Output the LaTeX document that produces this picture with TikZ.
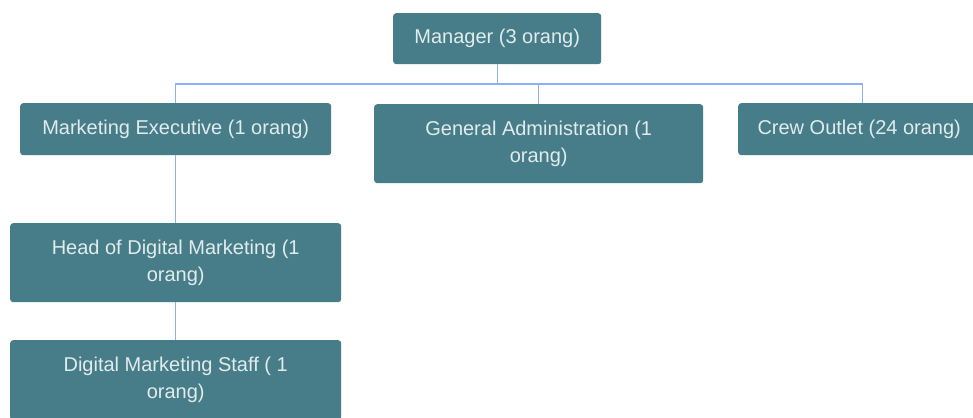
\documentclass[tikz,border=0pt]{standalone}
\usepackage{fontspec}
\setmainfont{Liberation Sans}
\definecolor{boxfill}{HTML}{467D88}
\definecolor{boxtext}{HTML}{E2ECEC}
\definecolor{linecol}{HTML}{8CB0F4}
\begin{document}
\begin{tikzpicture}[x=1pt,y=-1pt,
  orgbox/.style={rectangle, rounded corners=3pt, fill=boxfill, text=boxtext,
    align=center, inner sep=0pt, anchor=north west,
    font=\fontsize{20}{27}\selectfont},
  conn/.style={draw=linecol, line width=1.4pt}]
\useasboundingbox (0,0) rectangle (973,417);
\clip (0,0) rectangle (973,417);
\fill[white] (0,0) rectangle (973,417);
\node[orgbox, minimum width=208pt, minimum height=51pt] (mgr) at (393,13) {Manager (3 orang)};
\node[orgbox, minimum width=311pt, minimum height=52pt] (me) at (20,103) {Marketing Executive (1 orang)};
\node[orgbox, minimum width=329pt, minimum height=79pt] (ga) at (374,104) {General Administration (1\\orang)};
\node[orgbox, minimum width=248pt, minimum height=52pt] (co) at (738,103) {\hspace*{-6pt}Crew Outlet (24 orang)};
\node[orgbox, minimum width=331pt, minimum height=79pt] (hdm) at (10,223) {Head of Digital Marketing (1\\orang)};
\node[orgbox, minimum width=331pt, minimum height=80pt] (dms) at (10,340) {Digital Marketing Staff ( 1\\orang)};
\coordinate (bus) at (0,84);
\draw[conn] (mgr.south) -- (mgr.south |- bus);
\draw[conn] (me.north) -- (me.north |- bus) -- (co.north |- bus) -- (co.north);
\draw[conn] (ga.north) -- (ga.north |- bus);
\draw[conn] (me.south) -- (hdm.north);
\draw[conn] (hdm.south) -- (dms.north);
\end{tikzpicture}
\end{document}
